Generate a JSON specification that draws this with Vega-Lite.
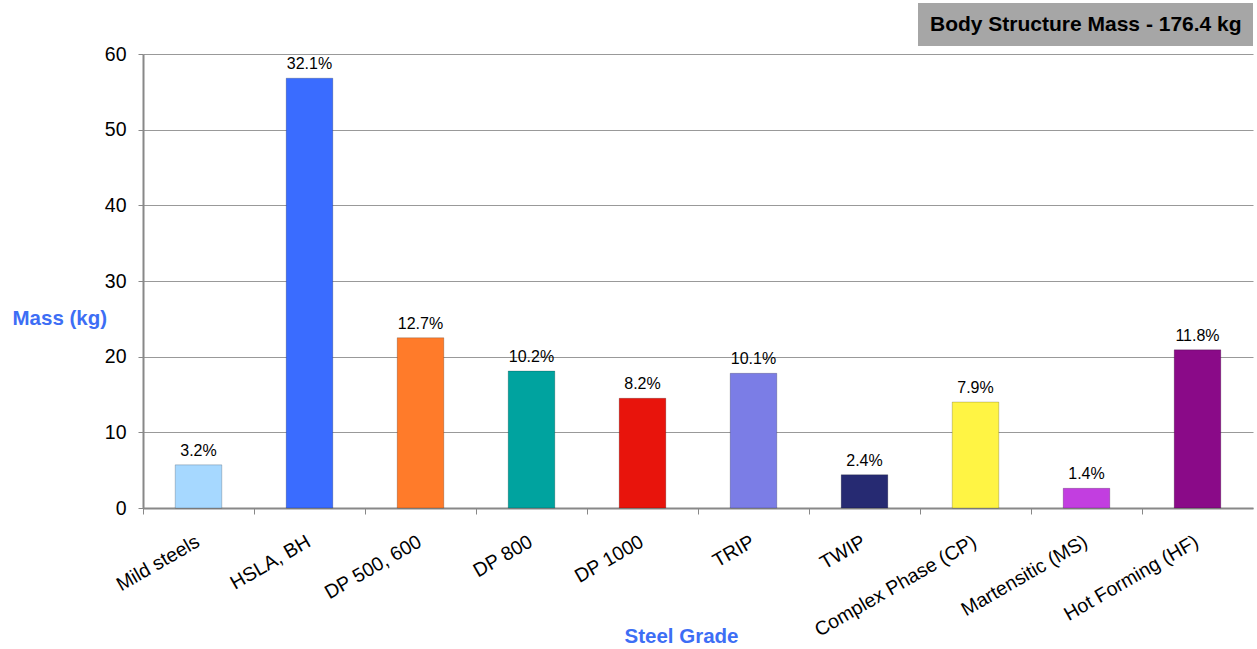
{
  "$schema": "https://vega.github.io/schema/vega-lite/v6.json",
  "width": 1110,
  "height": 454,
  "autosize": "none",
  "padding": {"left": 143, "top": 54, "right": 4, "bottom": 141},
  "background": "white",
  "config": {
    "font": "Liberation Sans",
    "view": {"stroke": null}
  },
  "data": {
    "values": [
      {"grade": "Mild steels", "mass": 5.7, "pct": "3.2%"},
      {"grade": "HSLA, BH", "mass": 56.8, "pct": "32.1%"},
      {"grade": "DP 500, 600", "mass": 22.5, "pct": "12.7%"},
      {"grade": "DP 800", "mass": 18.1, "pct": "10.2%"},
      {"grade": "DP 1000", "mass": 14.5, "pct": "8.2%"},
      {"grade": "TRIP", "mass": 17.8, "pct": "10.1%"},
      {"grade": "TWIP", "mass": 4.4, "pct": "2.4%"},
      {"grade": "Complex Phase (CP)", "mass": 14.0, "pct": "7.9%"},
      {"grade": "Martensitic (MS)", "mass": 2.6, "pct": "1.4%"},
      {"grade": "Hot Forming (HF)", "mass": 20.9, "pct": "11.8%"}
    ]
  },
  "encoding": {
    "x": {
      "field": "grade",
      "type": "nominal",
      "sort": null,
      "scale": {"paddingInner": 0, "paddingOuter": 0},
      "axis": {
        "title": "Steel Grade",
        "titleFontSize": 20.5,
        "titleFontWeight": "bold",
        "titleColor": "#3d6ef5",
        "titleX": 538,
        "titleY": 128,
        "titleBaseline": "middle",
        "titleAnchor": "middle",
        "titleAlign": "center",
        "bandPosition": 0,
        "labelOffset": -5,
        "labelAngle": -30,
        "labelAlign": "right",
        "labelBaseline": "top",
        "labelFontSize": 19.5,
        "labelColor": "black",
        "labelPadding": 18,
        "labelLimit": 300,
        "tickSize": 6,
        "tickColor": "#888888",
        "tickWidth": 1,
        "domainColor": "#888888",
        "domainWidth": 2,
        "grid": false
      }
    },
    "y": {
      "field": "mass",
      "type": "quantitative",
      "scale": {"domain": [0, 60], "nice": false},
      "axis": {
        "title": "Mass (kg)",
        "titleAngle": 0,
        "titleFontSize": 20.5,
        "titleFontWeight": "bold",
        "titleColor": "#3d6ef5",
        "titleAlign": "left",
        "titleBaseline": "middle",
        "titleX": -131,
        "titleY": 264,
        "values": [0, 10, 20, 30, 40, 50, 60],
        "labelFontSize": 19.5,
        "labelColor": "black",
        "labelPadding": 12,
        "tickSize": 5,
        "tickColor": "#888888",
        "domainColor": "#888888",
        "domainWidth": 2,
        "grid": true,
        "gridColor": "#999999",
        "gridWidth": 1
      }
    }
  },
  "layer": [
    {
      "mark": {"type": "bar", "width": {"band": 0.42}, "stroke": "#00000033", "strokeWidth": 1},
      "encoding": {
        "color": {
          "field": "grade",
          "type": "nominal",
          "scale": {
            "domain": ["Mild steels", "HSLA, BH", "DP 500, 600", "DP 800", "DP 1000", "TRIP", "TWIP", "Complex Phase (CP)", "Martensitic (MS)", "Hot Forming (HF)"],
            "range": ["#a6d8ff", "#3a6cff", "#ff7b2a", "#00a39f", "#e8140c", "#7b7de6", "#262a72", "#fff444", "#c23ee0", "#8a0a88"]
          },
          "legend": null
        }
      }
    },
    {
      "mark": {"type": "text", "baseline": "bottom", "dy": -6, "fontSize": 16},
      "encoding": {
        "text": {"field": "pct", "type": "nominal"},
        "color": {
          "datum": "Body Structure Mass - 176.4 kg",
          "type": "nominal",
          "scale": {"range": ["black"]},
          "legend": {
            "orient": "none",
            "legendX": 775,
            "legendY": -51,
            "title": null,
            "fillColor": "#a6a6a6",
            "padding": 11,
            "symbolSize": 0,
            "symbolOpacity": 0,
            "symbolStrokeWidth": 0,
            "labelOffset": -20,
            "labelFontSize": 21,
            "labelFontWeight": "bold",
            "labelColor": "black",
            "labelLimit": 400
          }
        }
      }
    }
  ],
  "resolve": {"scale": {"color": "independent"}, "legend": {"color": "independent"}}
}
